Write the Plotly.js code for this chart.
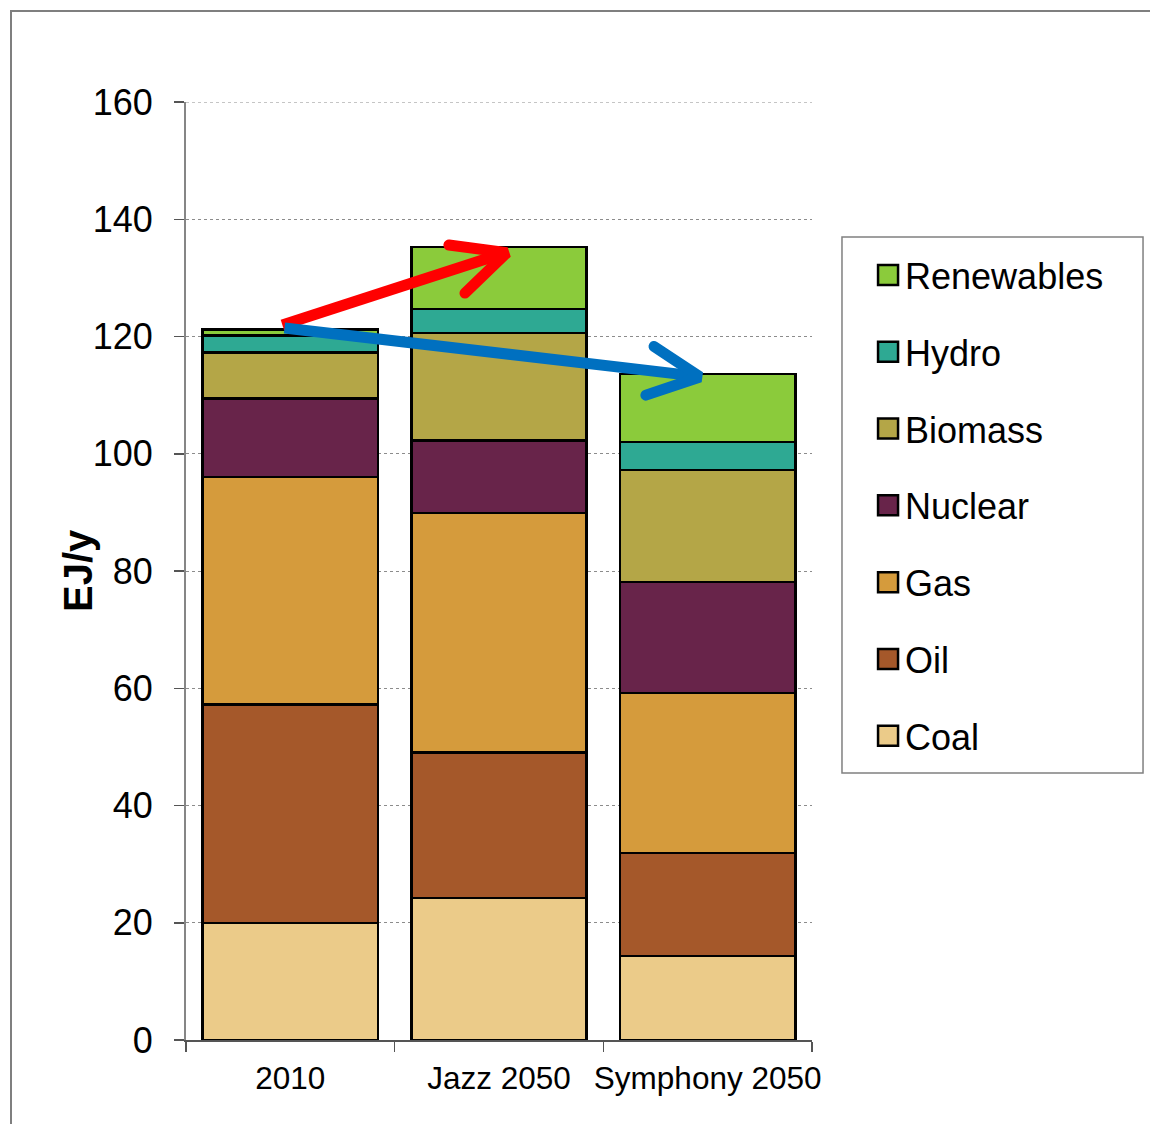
<!DOCTYPE html>
<html>
<head>
<meta charset="utf-8">
<script src="https://cdn.plot.ly/plotly-3.0.1.min.js"></script>
<style>
  html, body { margin: 0; padding: 0; background: #ffffff; }
  #wrap { position: relative; width: 1150px; height: 1124px; overflow: hidden; }
  #chart { position: absolute; left: 0; top: 0; width: 1150px; height: 1124px; }
  #frame {
    position: absolute; left: 10px; top: 10px; width: 1200px; height: 1200px;
    border-left: 2px solid #7f7f7f; border-top: 2px solid #7f7f7f;
    pointer-events: none;
  }
  /* larger legend swatches, set a little closer to their labels */
  #chart .legend .legendpoints path { d: path("M13,10H-7V-10H13Z"); }
  /* rounded ends on the arrow heads */
  #chart .scatterlayer .trace:nth-child(even) path.js-line { stroke-linecap: round; }
</style>
</head>
<body>
<div id="wrap">
  <div id="chart"></div>
  <div id="frame"></div>
</div>
<script>
// Primary energy supply by source, EJ per year
const categories = ['2010', 'Jazz 2050', 'Symphony 2050'];

const coal       = [20.0, 24.2, 14.3];
const oil        = [37.2, 24.8, 17.6];
const gas        = [38.8, 40.9, 27.3];
const nuclear    = [13.4, 12.4, 18.9];
const biomass    = [7.9, 18.3, 19.1];
const hydro      = [2.9, 4.1, 4.8];
const renewables = [1.0, 10.6, 11.6];

const yTicks = [0, 20, 40, 60, 80, 100, 120, 140, 160];

// Trend arrows (category index on x, EJ/y on y)
const redShaftX  = [-0.038, 1.030];
const redShaftY  = [121.96, 134.3];
const redHeadX   = [0.760, 1.038, 0.837];
const redHeadY   = [135.6, 134.3, 127.4];
const blueShaftX = [-0.028, 1.955];
const blueShaftY = [121.45, 113.2];
const blueHeadX  = [1.743, 1.963, 1.704];
const blueHeadY  = [118.3, 113.1, 110.0];

const series = [
  { name: 'Coal',       values: coal,       color: '#EBCB89' },
  { name: 'Oil',        values: oil,        color: '#A5582A' },
  { name: 'Gas',        values: gas,        color: '#D59B3C' },
  { name: 'Nuclear',    values: nuclear,    color: '#68244A' },
  { name: 'Biomass',    values: biomass,    color: '#B4A647' },
  { name: 'Hydro',      values: hydro,      color: '#2EA993' },
  { name: 'Renewables', values: renewables, color: '#8BCB3B' }
];

const FONT = 'Liberation Sans, Arial, sans-serif';
const yMax = yTicks[yTicks.length - 1];

// Stack from Coal upward; list the legend from Renewables downward
const traces = series.map((s, i) => ({
  type: 'bar',
  name: s.name,
  x: categories,
  y: s.values,
  legendgroup: s.name,
  legendrank: series.length - i,
  marker: { color: s.color, line: { color: '#000000', width: 2.5 } },
  hoverinfo: 'name+y'
}));

function arrowPart(x, y, color) {
  return {
    type: 'scatter', mode: 'lines', x: x, y: y,
    xaxis: 'x2', yaxis: 'y',
    line: { color: color, width: 11 },
    showlegend: false, hoverinfo: 'skip', cliponaxis: false
  };
}
traces.push(arrowPart(redShaftX, redShaftY, '#FF0000'));
traces.push(arrowPart(redHeadX, redHeadY, '#FF0000'));
traces.push(arrowPart(blueShaftX, blueShaftY, '#0070C0'));
traces.push(arrowPart(blueHeadX, blueHeadY, '#0070C0'));

const layout = {
  width: 1150,
  height: 1124,
  margin: { l: 186, r: 338, t: 102, b: 84 },
  paper_bgcolor: '#ffffff',
  plot_bgcolor: '#ffffff',
  barmode: 'stack',
  bargap: 0.16,
  font: { family: FONT, size: 33, color: '#000000' },
  showlegend: true,
  legend: {
    x: 1.0528, xanchor: 'left',
    y: 0.8475, yanchor: 'top',
    traceorder: 'grouped',
    tracegroupgap: 27,
    indentation: 20,
    bgcolor: 'rgba(0,0,0,0)',
    borderwidth: 0,
    font: { family: FONT, size: 36, color: '#000000' }
  },
  shapes: [
    // legend frame
    {
      type: 'rect', xref: 'paper', yref: 'paper',
      x0: 1.0479, x1: 1.5288, y0: 0.2846, y1: 0.8561,
      line: { color: '#808080', width: 1.5 },
      fillcolor: 'rgba(0,0,0,0)',
      layer: 'above'
    },
    // gridline along the top of the value range
    {
      type: 'line', xref: 'paper', yref: 'y',
      x0: 0, x1: 1, y0: yMax, y1: yMax,
      line: { color: '#8c8c8c', width: 1, dash: 'dot' },
      layer: 'below'
    }
  ],
  xaxis: {
    type: 'category',
    tickson: 'boundaries',
    tickangle: 0,
    ticks: 'outside',
    ticklen: 10,
    tickwidth: 1.5,
    tickcolor: '#555555',
    showline: true,
    linecolor: '#555555',
    linewidth: 1.5,
    showgrid: false,
    ticklabelstandoff: 10,
    tickfont: { family: FONT, size: 31.5, color: '#000000' },
    fixedrange: true
  },
  xaxis2: {
    overlaying: 'x',
    range: [-0.5, 2.5],
    visible: false,
    fixedrange: true
  },
  yaxis: {
    range: [0, yMax],
    tickvals: yTicks,
    ticks: 'outside',
    ticklen: 10,
    tickwidth: 1.5,
    tickcolor: '#555555',
    showline: true,
    linecolor: '#868686',
    linewidth: 2,
    showgrid: true,
    gridcolor: '#8c8c8c',
    gridwidth: 1,
    griddash: 'dot',
    zeroline: false,
    ticklabelstandoff: 14,
    tickfont: { family: FONT, size: 36, color: '#000000' },
    fixedrange: true
  },
  annotations: [{
    text: '<b>EJ/y</b>',
    xref: 'paper', yref: 'paper',
    x: -0.1725, y: 0.5,
    xanchor: 'center', yanchor: 'middle',
    textangle: -90,
    showarrow: false,
    font: { family: FONT, size: 40, color: '#000000' }
  }]
};

Plotly.newPlot('chart', traces, layout, { displayModeBar: false, staticPlot: true });
</script>
</body>
</html>
